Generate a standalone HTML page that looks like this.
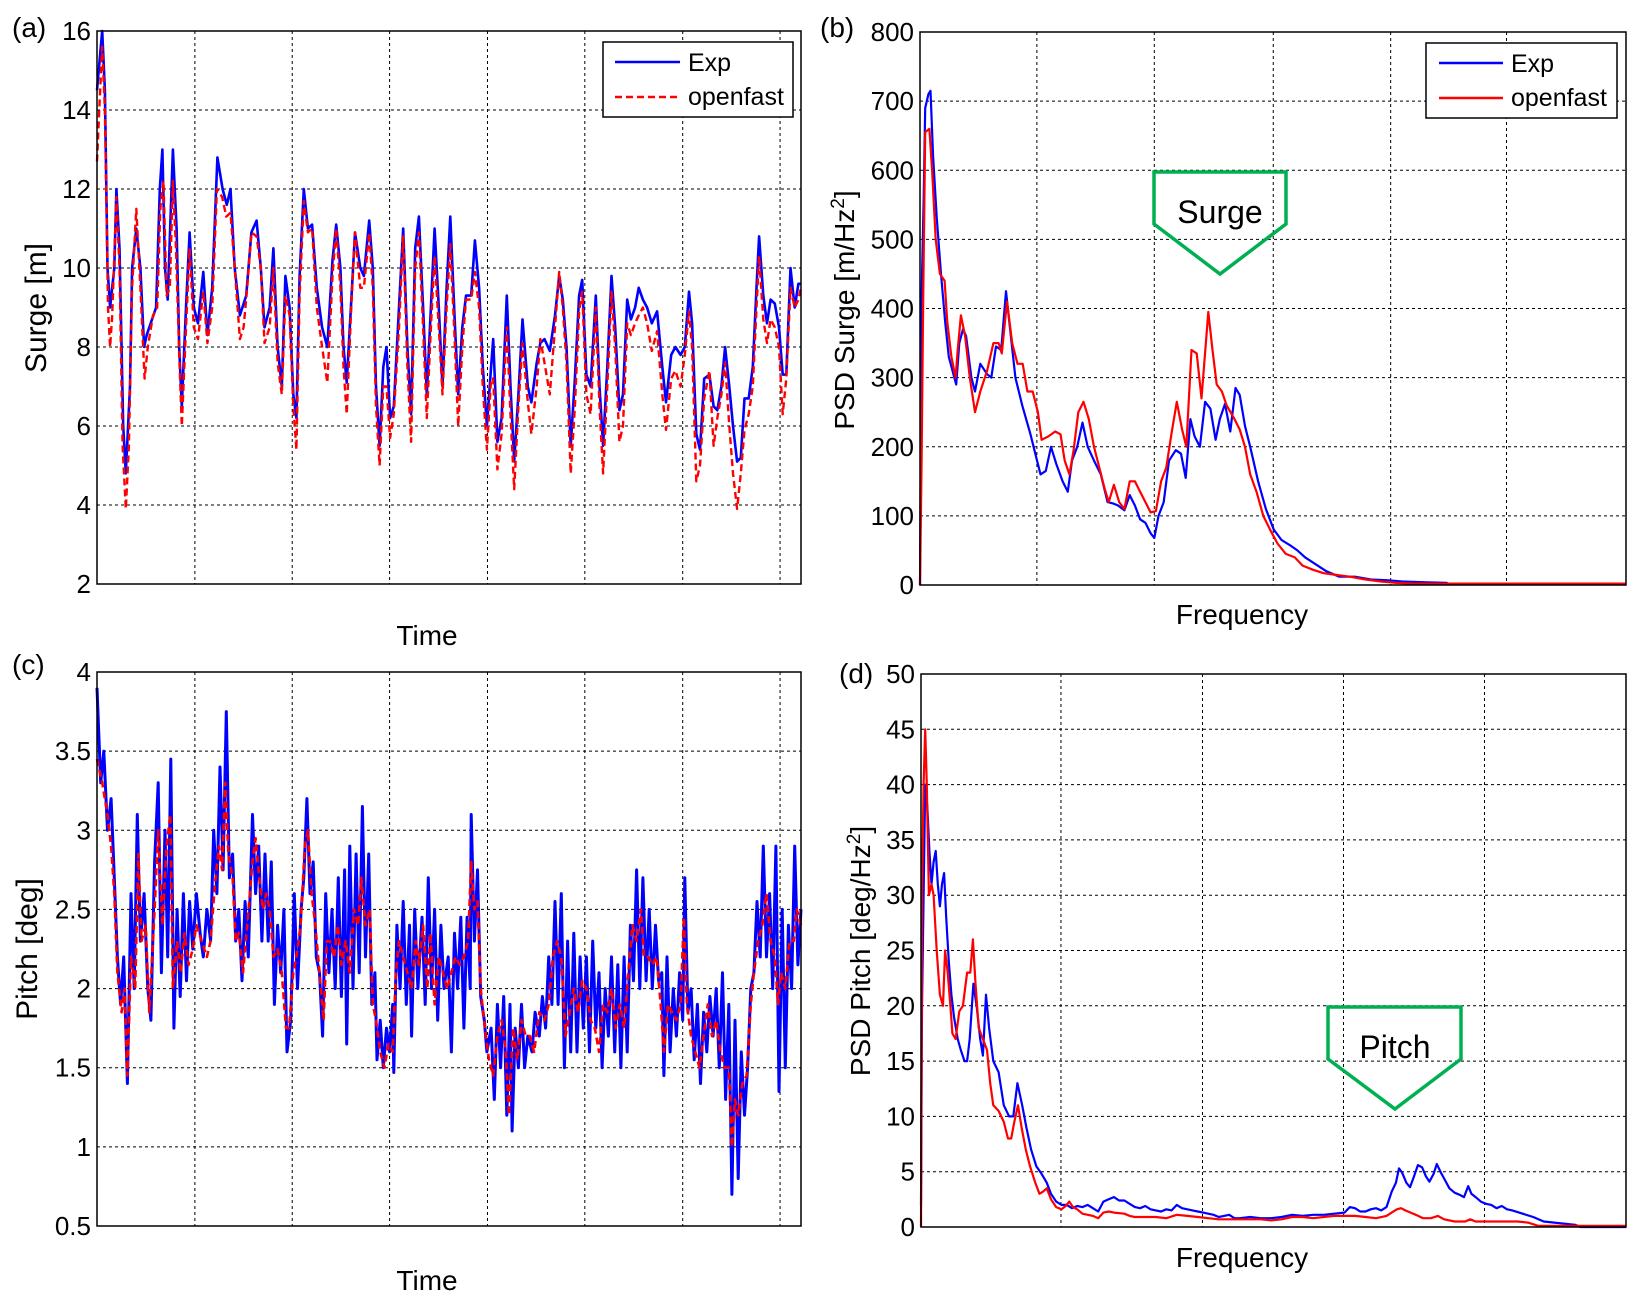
<!DOCTYPE html>
<html><head><meta charset="utf-8">
<style>
html,body{margin:0;padding:0;background:#fff;}
svg{display:block;}
text{font-family:"Liberation Sans",sans-serif;fill:#000;}
</style></head>
<body>
<svg id="fig" width="1642" height="1304" viewBox="0 0 1642 1304" xmlns="http://www.w3.org/2000/svg"></svg>
<script>
// ---------- DATA ----------
const surgeExpT=[185,195,200,205,210,218,222,228,235,240,248,252,260,268,275,280,290,298,305,310,315,320,330,337,342,347,355,362,370,378,388,396,405,415,425,433,440,448,458,470,480,490,498,505,515,522,530,538,545,553,560,566,572,580,588,596,605,615,625,635,642,650,656,662,670,678,688,695,705,712,718,725,732,738,745,752,762,770,778,785,793,800,808,815,823,830,838,845,853,860,868,875,883,890,900,907,915,922,930,938,942,950,958,968,975,982,990,998,1008,1015,1025,1032,1040,1050,1060,1068,1075,1082,1090,1098,1106,1112,1120,1128,1138,1145,1152,1160,1168,1175,1183,1190,1198,1205,1213,1220,1228,1236,1245,1255,1265,1272,1282,1290,1300,1308,1316,1322,1330,1337,1345,1355,1363,1370,1378,1385,1393,1400,1408,1415,1422,1430,1438,1445,1450,1458,1465,1472,1480,1488,1495,1502,1510,1518,1525,1530];
const surgeExp=[14.5,16,14.5,10,9,10,12,10.5,6,4.8,7,10,11,10,8,8.3,8.7,9,12,13,10,9.2,13,11,8,6.5,9,10.9,9,8.6,9.9,8.3,9.5,12.8,12,11.6,12,10,8.8,9.3,10.9,11.2,10,8.5,9,10.5,8,7,9.8,9,6.8,6.2,9.8,12,11,11.1,9.5,8.5,8,10.2,11.1,10,8,7.1,9,10.9,10,9.8,11.2,10,7,5.5,7.5,8,6.2,6.5,9,11,8,6.3,10.5,11.3,9,6.8,9,11,9,7,9.5,11.3,8.8,6.8,8.5,9.3,9.3,10.7,9.5,7.5,6,7.5,8.2,5.6,6.2,9.3,7,5.1,6.8,8.7,7,6.6,7.6,8.1,8.2,7.9,8.8,9.8,9.2,8,5.5,7.2,9.3,9.7,7.3,7,9.3,7,5.5,7.5,9.8,8.5,6.4,6.8,9.2,8.7,9,9.5,9.2,9,8.6,8.9,7.5,6.6,7.8,8,7.8,8,9.4,8.6,5.8,5.4,7.2,7.3,6.5,6.4,7,8,7,6,5.1,5.2,6.7,6.7,7.5,9.5,10.8,9.3,8.6,9.2,9.1,8.5,7.3,7.3,10,9,9.6,9.6];
const surgeOfT=[185,190,195,200,206,210,214,222,228,234,240,246,252,260,268,276,282,292,300,306,312,318,324,330,336,342,347,355,362,370,378,388,396,405,414,424,432,440,448,458,465,472,480,490,498,505,515,522,530,538,545,553,560,566,572,580,588,596,605,615,625,635,642,650,656,662,670,678,688,695,705,712,718,725,732,738,745,752,762,770,778,785,793,800,808,815,823,830,838,845,853,860,868,875,883,890,900,907,915,922,930,938,942,950,958,968,975,982,990,998,1008,1015,1025,1032,1040,1050,1060,1068,1075,1082,1090,1098,1106,1112,1120,1128,1138,1145,1152,1160,1168,1175,1183,1190,1198,1205,1213,1220,1228,1236,1245,1255,1265,1272,1282,1290,1300,1308,1316,1322,1330,1337,1345,1355,1363,1370,1378,1385,1393,1400,1408,1415,1422,1430,1438,1445,1450,1458,1465,1472,1480,1488,1495,1502,1510,1518,1525,1530];
const surgeOf=[12.7,14.2,15.6,14,9,8,8.8,11.8,10,5.5,3.9,5.5,9.5,11.5,9.5,7.2,8,8.8,9,11.5,12.2,9.3,9.5,12.2,10.5,7.8,6,8.5,10.5,8.5,8.2,9.4,8.1,9,12,11.8,11.3,11.4,10,8.2,8.5,9.5,10.9,10.8,10,8.1,8.5,10,7.6,6.8,9.3,8.8,6.5,5.4,9.3,11.7,10.9,11,9,8,7.1,9.8,11,9.5,7.5,6.3,8.8,10.9,9.5,9.5,10.9,9.5,6.5,5,7,7,5.7,6.3,8.5,10.8,7.5,5.6,10,10.9,8.5,6.2,8.5,10.3,8.5,6.8,9,10.6,8.3,6,8,9.2,9.2,9.9,9,7,5.4,7.2,7.2,4.9,5.8,8.5,6.3,4.4,6.5,8.1,6.6,5.8,7,8.2,7.6,6.8,8.5,9.9,9,7.6,4.8,6.5,8.9,9.4,6.8,6.3,9,6.5,4.8,7,9.4,8,5.6,6,8.6,8.3,8.6,8.8,9,8.6,7.9,8.4,6.8,5.9,7.2,7.4,7,7.8,8.9,8,4.6,5,6.7,7.4,5.5,6.2,6.8,7.6,6,4.8,3.9,4.8,5.9,6.3,7,9,10.3,8.7,8.1,8.7,8.5,8,6.3,7.2,9.5,9,9.2,9.5];
const pitchExpT=[185,192,198,205,212,218,224,230,236,243,250,256,262,268,275,282,288,295,302,308,315,320,326,332,338,344,350,356,362,368,375,382,388,395,402,408,414,420,426,432,438,444,450,456,462,468,474,482,488,494,500,506,512,518,524,530,536,542,548,555,562,568,575,580,586,592,598,604,610,616,622,628,634,640,646,652,658,662,668,674,680,686,692,698,704,710,716,720,726,732,738,744,750,752,758,764,770,776,782,786,792,798,806,812,818,824,830,836,842,848,856,862,868,874,880,886,892,898,900,906,912,918,925,930,938,944,950,956,962,968,974,978,984,990,996,1002,1008,1016,1022,1030,1036,1042,1048,1054,1060,1066,1072,1078,1084,1090,1096,1102,1108,1114,1120,1126,1132,1138,1144,1150,1156,1162,1168,1174,1180,1186,1192,1198,1204,1210,1216,1222,1228,1234,1240,1246,1252,1258,1264,1268,1274,1280,1286,1292,1298,1304,1308,1314,1320,1326,1332,1338,1344,1350,1356,1362,1368,1374,1380,1386,1392,1398,1404,1410,1416,1422,1428,1434,1440,1446,1452,1458,1464,1470,1476,1482,1488,1494,1500,1506,1512,1518,1524,1530];
const pitchExp=[3.9,3.3,3.5,3.0,3.2,2.7,2.2,1.9,2.2,1.4,2.6,2.0,3.1,2.3,2.6,2.0,1.8,2.8,3.3,2.1,3.0,2.2,3.45,1.75,2.5,1.95,2.6,2.05,2.55,2.25,2.6,2.35,2.2,2.5,2.3,3.0,2.6,3.4,2.75,3.75,2.7,2.85,2.3,2.5,2.05,2.55,2.2,3.1,2.6,2.9,2.3,2.85,2.3,2.8,1.9,2.4,2.1,2.5,1.6,1.8,2.6,2.0,2.5,2.7,3.2,2.6,2.8,2.2,2.1,1.7,2.6,2.1,2.5,2.0,2.7,1.95,2.75,1.65,2.9,2.0,2.85,2.1,3.15,2.2,2.85,1.9,2.1,1.55,1.8,1.5,1.75,1.6,1.9,1.47,2.4,2.0,2.55,1.9,2.4,1.7,2.5,2.0,2.45,1.9,2.7,2.0,2.5,1.8,2.4,2.0,2.2,1.6,2.35,2.0,2.45,1.75,2.45,2.0,3.1,2.3,2.75,1.95,1.8,1.6,1.75,1.3,1.9,1.5,1.95,1.2,1.9,1.1,1.75,1.5,1.9,1.5,1.7,1.6,1.85,1.7,1.95,1.75,2.2,1.9,2.55,1.9,2.6,1.5,2.3,1.6,2.35,1.6,2.2,1.75,2.2,1.6,2.3,1.75,2.1,1.5,2.0,1.7,2.2,1.6,2.15,1.5,2.2,1.6,2.4,2.05,2.75,2.0,2.7,2.05,2.5,2.0,2.4,2.05,2.1,1.45,2.2,1.6,2.0,1.7,2.1,1.8,2.7,1.85,2.0,1.55,1.9,1.4,1.85,1.6,1.95,1.7,2.0,1.5,2.1,1.3,1.9,0.7,1.8,0.8,1.6,1.2,1.5,2.0,2.1,2.55,2.2,2.9,2.2,2.6,2.0,2.9,1.35,2.5,1.5,2.4,2.0,2.9,2.15,2.5];
const pitchOfT=[185,195,205,212,218,224,232,238,243,250,258,264,270,278,285,295,302,310,318,325,330,338,345,352,360,368,375,385,395,402,410,418,424,430,436,444,450,456,464,472,482,488,495,502,508,515,522,530,538,546,552,560,566,574,582,588,595,602,610,618,624,630,638,645,652,660,668,676,684,690,698,706,712,718,726,734,742,750,756,762,770,778,786,794,800,808,816,822,830,838,846,854,862,870,878,886,894,900,906,912,918,926,934,942,950,958,966,972,980,988,996,1004,1012,1020,1030,1040,1048,1056,1064,1072,1080,1088,1096,1104,1112,1120,1128,1136,1144,1152,1160,1168,1176,1184,1192,1200,1208,1216,1224,1230,1238,1246,1254,1262,1268,1276,1284,1292,1300,1306,1312,1320,1328,1336,1344,1352,1360,1368,1376,1384,1392,1398,1404,1410,1418,1426,1434,1440,1448,1456,1464,1472,1480,1486,1492,1500,1508,1516,1522,1530];
const pitchOf=[3.45,3.3,3.1,2.9,2.6,2.1,1.85,2.0,1.45,2.2,2.0,2.85,2.3,2.4,1.85,2.5,3.0,2.4,2.9,3.1,2.0,2.3,2.1,2.35,2.15,2.25,2.4,2.3,2.2,2.3,2.65,2.9,2.75,3.3,2.85,2.7,2.3,2.35,2.1,2.4,2.8,2.95,2.7,2.5,2.6,2.5,2.2,2.25,2.1,1.75,1.75,2.1,2.2,2.4,2.9,3.0,2.6,2.4,2.1,1.8,2.3,2.3,2.2,2.4,2.15,2.3,2.1,2.5,2.4,2.7,2.4,2.5,1.9,1.8,1.6,1.5,1.65,1.6,2.1,2.3,2.2,2.1,2.0,2.3,2.15,2.4,2.0,2.35,1.9,2.2,2.1,2.0,2.1,2.2,2.15,2.2,2.3,2.8,2.5,2.55,2.0,1.75,1.55,1.45,1.7,1.8,1.6,1.2,1.75,1.55,1.8,1.7,1.7,1.6,1.85,1.8,1.9,2.2,2.3,2.2,1.7,1.85,2.0,1.85,2.05,2.0,1.8,1.75,1.6,1.9,1.85,2.0,1.75,1.9,1.75,2.1,2.4,2.3,2.5,2.2,2.2,2.15,2.2,1.9,1.6,1.9,1.85,1.8,1.9,2.45,1.9,1.7,1.6,1.5,1.7,1.9,1.7,1.8,1.6,1.5,1.5,1.0,1.3,1.2,1.4,1.45,1.9,2.1,2.3,2.4,2.6,2.3,2.2,1.9,2.1,2.0,2.3,2.3,2.5,2.4];
const psdSurgeExpF=[190,193,197,200,206,210,215,222,230,238,245,252,259,265,272,278,288,295,305,318,326,335,345,354,362,372,385,400,410,420,430,440,450,462,472,480,490,500,510,522,535,548,558,568,580,590,600,610,620,630,637,645,655,665,678,688,697,706,714,724,734,744,754,762,772,782,792,800,810,820,835,850,865,880,895,910,925,945,965,990,1020,1050,1080,1110,1150,1195,1200,1537];
const psdSurgeExp=[0,420,560,690,710,715,620,530,450,380,330,310,290,350,370,360,300,280,320,305,300,345,340,425,370,300,260,220,190,160,165,200,175,150,135,180,200,235,200,180,160,120,118,115,108,130,115,95,90,75,68,100,120,180,195,190,155,240,215,200,265,255,210,240,262,222,285,275,230,200,150,110,80,65,58,50,40,30,20,12,12,8,7,5,4,3,1,1];
const psdSurgeOfF=[190,193,196,200,208,213,220,228,237,242,250,258,262,268,276,285,295,305,318,330,340,346,356,366,376,386,395,405,415,422,435,448,458,466,475,483,492,502,512,522,532,542,550,560,570,580,590,600,610,620,630,640,650,660,670,680,690,698,708,718,727,740,748,756,766,775,790,800,810,820,832,845,858,872,888,905,920,940,960,980,1010,1040,1070,1100,1130,1537];
const psdSurgeOf=[0,180,400,655,660,600,500,450,440,380,330,300,340,390,360,300,250,280,310,350,350,335,410,350,320,320,280,280,250,210,215,222,218,180,160,195,250,265,240,200,170,140,120,145,120,110,150,150,135,120,105,107,150,170,220,265,225,200,340,335,270,395,340,290,280,260,240,225,200,160,135,100,80,60,45,40,28,22,17,15,12,8,5,3,2,2];
const psdPitchExpF=[192,194,197,200,204,208,212,216,220,224,228,232,236,240,245,250,255,262,268,275,280,285,292,298,305,310,316,322,330,340,350,360,368,376,385,393,402,412,422,432,440,450,460,470,480,490,500,510,520,530,540,550,560,570,580,590,600,610,620,630,640,650,660,670,680,690,700,710,720,730,740,750,760,770,780,790,800,820,840,860,880,900,920,940,960,980,1000,1010,1020,1030,1040,1050,1060,1070,1080,1090,1098,1104,1110,1118,1125,1132,1140,1148,1155,1162,1170,1176,1184,1192,1200,1210,1220,1228,1236,1242,1250,1260,1270,1280,1290,1300,1310,1320,1340,1360,1380,1400,1420,1440,1450,1537];
const psdPitchExp=[2,20,30,40,38,34,31,33,34,31,29,31,32,28,24,21,19,17,16,15,15,17,22,20,17,15.5,21,18,15,14,11,10,10,13,11,9,7,5.5,4.8,4,3,2.3,2,2,1.7,1.9,1.8,2,1.7,1.4,2.3,2.5,2.7,2.4,2.4,2.1,1.8,1.7,1.9,1.6,1.5,1.4,1.6,1.5,2,1.7,1.6,1.5,1.4,1.3,1.2,1.1,0.9,1.0,1.1,0.8,0.8,0.9,0.8,0.8,0.9,1.1,1.0,1.1,1.1,1.2,1.3,1.8,1.7,1.4,1.4,1.6,1.7,1.5,1.8,3.2,4,5.3,4.9,4.0,3.6,4.5,5.6,5.4,4.6,4.1,4.8,5.7,4.9,4.2,3.5,3.1,2.9,2.7,3.7,3.0,2.7,2.3,2.1,2.0,1.7,1.9,1.6,1.5,1.2,0.9,0.5,0.4,0.3,0.2,0,0];
const psdPitchOfF=[192,194,197,200,203,207,212,216,222,228,234,238,243,248,252,258,265,272,280,286,291,296,302,310,318,324,330,340,350,358,364,370,377,384,392,400,410,418,425,432,440,450,460,468,475,482,490,500,510,520,530,540,550,560,580,590,600,620,640,660,680,700,720,740,760,780,800,820,840,860,880,900,920,940,960,980,1000,1020,1040,1060,1080,1090,1100,1108,1116,1126,1136,1150,1165,1178,1190,1210,1230,1240,1250,1270,1300,1330,1350,1370,1400,1537];
const psdPitchOf=[0,30,40,45,40,30,31,30,25,21,20,25,23,20,17.5,17,19.5,20,23,23,26,22,18,17,16,13,11,10.5,9.5,8,8,9.5,11,9,7,5.5,4,3,3.2,3.5,2.5,1.8,1.6,1.9,2.3,1.8,1.6,1.2,1.1,1.0,0.8,1.3,1.4,1.3,1.2,1.0,0.9,0.9,0.9,0.8,1.1,1.0,0.9,0.8,0.7,0.7,0.7,0.7,0.7,0.6,0.7,0.9,0.9,0.8,0.9,1.0,1.0,1.0,0.9,0.8,1.0,1.3,1.6,1.7,1.5,1.3,1.1,0.8,0.8,1.0,0.7,0.5,0.5,0.7,0.5,0.5,0.5,0.5,0.4,0.1,0.1,0.1];
const surgeTicks=[2,4,6,8,10,12,14,16];
const pitchTicks=[0.5,1,1.5,2,2.5,3,3.5,4];
const psdSurgeTicks=[0,100,200,300,400,500,600,700,800];
const psdPitchTicks=[0,5,10,15,20,25,30,35,40,45,50];
const timeGrid=[372,558,744,931,1117,1304,1490];
const freqGridB=[413,637,864,1088,1309];
const freqGridD=[459,729,998,1267];

// ---------- DRAWING ----------
const NS="http://www.w3.org/2000/svg";
const svg=document.getElementById('fig');
function mk(tag,attrs,parent){const e=document.createElementNS(NS,tag);for(const k in attrs)e.setAttribute(k,attrs[k]);(parent||svg).appendChild(e);return e;}
function txt(s,attrs,parent){const e=mk('text',attrs,parent);e.textContent=s;return e;}

function makePanel(P){
  const g=mk('g',{});
  
  
  P.sx=v=>P.L+(v-P.x0)/(P.x1-P.x0)*(P.R-P.L);
  P.sy=v=>P.B-(v-P.y0)/(P.y1-P.y0)*(P.B-P.T);
  P.xgrid.forEach(v=>{const l=mk('line',{x1:P.sx(v),x2:P.sx(v),y1:P.T,y2:P.B,stroke:'#000','stroke-width':1,'stroke-dasharray':'3,3'},g);
    
    });
  P.ticks.forEach(v=>{
    if(v!==P.y0&&v!==P.y1){const l=mk('line',{x1:P.L,x2:P.R,y1:P.sy(v),y2:P.sy(v),stroke:'#000','stroke-width':1,'stroke-dasharray':'3,3'},g);
      
      }
    const t=txt(String(v),{x:P.L-6,y:P.sy(v)+9,'text-anchor':'end','font-size':26},g);
    
    
  });
  P.g=g;
  return P;
}
function frame(P){
  const r=mk('rect',{x:P.L,y:P.T,width:P.R-P.L,height:P.B-P.T,fill:'none',stroke:'#000','stroke-width':1.5},P.g);
  
  
}
function series(P,xs,ys,color,dash,width,name){
  let d='';
  for(let i=0;i<xs.length;i++){d+=(i?'L':'M')+P.sx(xs[i]).toFixed(1)+','+P.sy(ys[i]).toFixed(1);}
  const p=mk('path',{d:d,fill:'none',stroke:color,'stroke-width':width,'stroke-linejoin':'round'},P.g);
  if(dash)p.setAttribute('stroke-dasharray',dash);
  
  
}

const A=makePanel({name:'panel-a-surge',L:97,R:801,T:31,B:584,x0:185,x1:1530,y0:2,y1:16,ticks:surgeTicks,xgrid:timeGrid});
series(A,surgeExpT,surgeExp,'#0000ff',null,2.6,'surge-exp-line');
series(A,surgeOfT,surgeOf,'#ff0000','7,4',2.4,'surge-openfast-line');
frame(A);

const C=makePanel({name:'panel-c-pitch',L:97,R:801,T:672,B:1226,x0:185,x1:1530,y0:0.5,y1:4,ticks:pitchTicks,xgrid:timeGrid});
series(C,pitchExpT,pitchExp,'#0000ff',null,3,'pitch-exp-line');
series(C,pitchOfT,pitchOf,'#ff0000','7,4',2.6,'pitch-openfast-line');
frame(C);

const Bp=makePanel({name:'panel-b-psd-surge',L:920,R:1626,T:32,B:585,x0:190,x1:1537,y0:0,y1:800,ticks:psdSurgeTicks,xgrid:freqGridB});
series(Bp,psdSurgeExpF,psdSurgeExp,'#0000ff',null,2.2,'psd-surge-exp-line');
series(Bp,psdSurgeOfF,psdSurgeOf,'#ff0000',null,2.2,'psd-surge-openfast-line');
frame(Bp);

const D=makePanel({name:'panel-d-psd-pitch',L:921,R:1626,T:674,B:1227,x0:192,x1:1537,y0:0,y1:50,ticks:psdPitchTicks,xgrid:freqGridD});
series(D,psdPitchExpF,psdPitchExp,'#0000ff',null,2.2,'psd-pitch-exp-line');
series(D,psdPitchOfF,psdPitchOf,'#ff0000',null,2.2,'psd-pitch-openfast-line');
frame(D);

function legend(x,y,w,h,lx1,lx2,tx,dashRed,name){
  const g=mk('g',{});
  
  
  mk('rect',{x:x,y:y,width:w,height:h,fill:'#fff',stroke:'#000','stroke-width':1.5},g);
  mk('line',{x1:lx1,x2:lx2,y1:y+20,y2:y+20,stroke:'#0000ff','stroke-width':2.5},g);
  const r=mk('line',{x1:lx1,x2:lx2,y1:y+55,y2:y+55,stroke:'#ff0000','stroke-width':2.5},g);
  if(dashRed)r.setAttribute('stroke-dasharray','7,4');
  const t1=txt('Exp',{x:tx,y:y+29,'font-size':25},g);
  
  
  const t2=txt('openfast',{x:tx,y:y+63,'font-size':25},g);
  
  
}
legend(603,42,190,75,615,680,688,true,'legend-a');
legend(1426,43,191,75,1439,1503,1511,false,'legend-b');

function callout(pts,label,cx,cy,name){
  const g=mk('g',{});
  
  
  mk('polygon',{points:pts,fill:'none',stroke:'#00b050','stroke-width':3.5},g);
  txt(label,{x:cx,y:cy,'text-anchor':'middle','font-size':32},g);
}
callout('1154,172 1286,172 1286,224 1220,274 1154,224','Surge',1220,223,'surge-callout');
callout('1328,1007 1461,1007 1461,1059 1395,1109 1328,1059','Pitch',1395,1058,'pitch-callout');

function label(s,x,y,size,rot,name,anchor){
  const t=txt(s,{x:x,y:y,'font-size':size,'text-anchor':anchor||'middle'});
  if(rot)t.setAttribute('transform','rotate(-90 '+x+' '+y+')');
  
  
  return t;
}
label('(a)',12,37,28,false,'panel-label-a','start');
label('(b)',820,37,28,false,'panel-label-b','start');
label('(c)',12,674,28,false,'panel-label-c','start');
label('(d)',839,683,28,false,'panel-label-d','start');
label('Time',427,645,28,false,'x-axis-title-a');
label('Time',427,1290,28,false,'x-axis-title-c');
label('Frequency',1242,624,28,false,'x-axis-title-b');
label('Frequency',1242,1267,28,false,'x-axis-title-d');
label('Surge [m]',46,308,30,true,'y-axis-title-a');
label('Pitch [deg]',37,949,30,true,'y-axis-title-c');
const tb=label('PSD Surge [m/Hz',854,310,28,true,'y-axis-title-b');
const s1=mk('tspan',{'baseline-shift':'super','font-size':19},tb);s1.textContent='2';
const s1b=mk('tspan',{},tb);s1b.textContent=']';
const td=label('PSD Pitch [deg/Hz',870,951,28,true,'y-axis-title-d');
const s2=mk('tspan',{'baseline-shift':'super','font-size':19},td);s2.textContent='2';
const s2b=mk('tspan',{},td);s2b.textContent=']';
</script>
</body></html>
